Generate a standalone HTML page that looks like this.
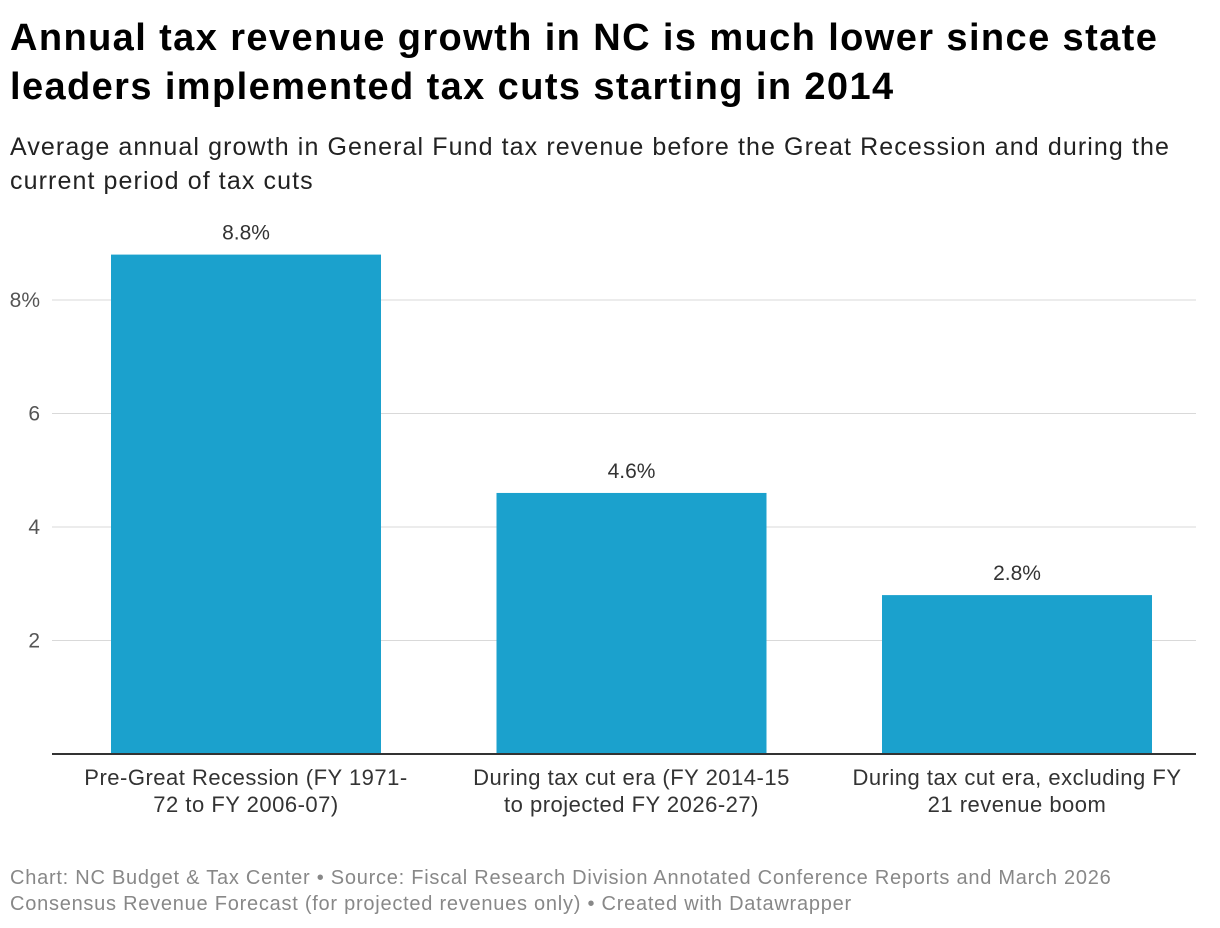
<!DOCTYPE html>
<html><head><meta charset="utf-8"><style>
body{margin:0;width:1220px;height:928px;background:#fff;font-family:"Liberation Sans",sans-serif;overflow:hidden;position:relative}
h1{position:absolute;left:10px;top:14px;margin:0;font-size:38px;letter-spacing:1.4px;line-height:49px;font-weight:bold;color:#000;white-space:nowrap}
.sub{position:absolute;left:10px;top:130px;font-size:25px;letter-spacing:1.1px;line-height:34px;color:#222;white-space:nowrap}
.foot{position:absolute;left:10px;top:865px;font-size:20px;letter-spacing:0.75px;line-height:26px;color:#888;white-space:nowrap}
svg{position:absolute;left:0;top:0}
</style></head><body>
<h1>Annual tax revenue growth in NC is much lower since state<br>leaders implemented tax cuts starting in 2014</h1>
<div class="sub">Average annual growth in General Fund tax revenue before the Great Recession and during the<br>current period of tax cuts</div>
<svg id="c" width="1220" height="928"></svg>
<div class="foot">Chart: NC Budget &amp; Tax Center • Source: Fiscal Research Division Annotated Conference Reports and March 2026<br>Consensus Revenue Forecast (for projected revenues only) • Created with Datawrapper</div>
<script>
const categories=[["Pre-Great Recession (FY 1971-","72 to FY 2006-07)"],["During tax cut era (FY 2014-15","to projected FY 2026-27)"],["During tax cut era, excluding FY","21 revenue boom"]];
const values=[8.8,4.6,2.8];
const valueLabels=["8.8%","4.6%","2.8%"];
const ticks=[2,4,6,8];
const tickLabels=["2","4","6","8%"];
const svg=document.getElementById('c');const NS='http://www.w3.org/2000/svg';
const y0=754,perUnit=56.75;
const y=v=>y0-v*perUnit;
const bandX=i=>111+i*385.5,bw=270;
function mk(t,a,txt){const e=document.createElementNS(NS,t);for(const k in a)e.setAttribute(k,a[k]);if(txt!=null)e.textContent=txt;svg.appendChild(e);return e;}
ticks.forEach((t,i)=>{
const g=mk('line',{x1:52,x2:1196,y1:y(t),y2:y(t),stroke:'#d9d9d9','stroke-width':1});


const l=mk('text',{x:40,y:y(t)+7,'text-anchor':'end','font-size':21,fill:'#555','font-family':'Liberation Sans'},tickLabels[i]);


});
values.forEach((v,i)=>{
const r=mk('rect',{x:bandX(i),y:y(v),width:bw,height:y0-y(v),fill:'#1ba1cd'});


const t=mk('text',{x:bandX(i)+bw/2,y:y(v)-15,'text-anchor':'middle','font-size':21,fill:'#333','font-family':'Liberation Sans'},valueLabels[i]);


categories[i].forEach((s,j)=>{
const c=mk('text',{x:bandX(i)+bw/2,y:785+j*27,'text-anchor':'middle','font-size':22,'letter-spacing':0.5,fill:'#333','font-family':'Liberation Sans'},s);


});
});
const b=mk('line',{x1:52,x2:1196,y1:y0,y2:y0,stroke:'#333','stroke-width':2});


</script>
</body></html>
